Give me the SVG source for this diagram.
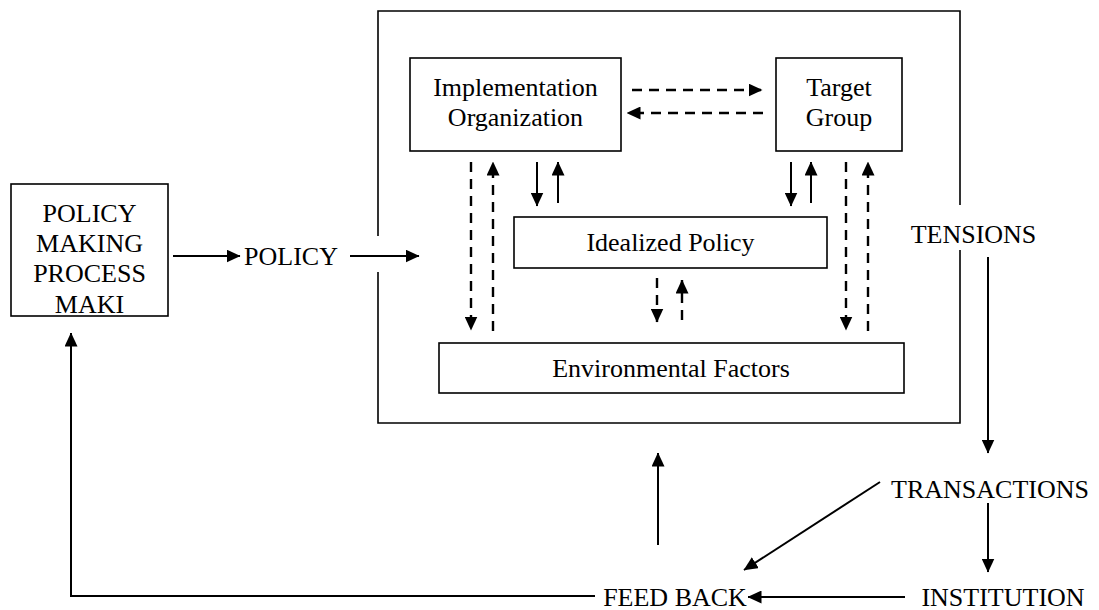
<svg xmlns="http://www.w3.org/2000/svg" width="1099" height="610" viewBox="0 0 1099 610">
<style>
  .box{fill:#fff;stroke:#000;stroke-width:1.6}
  .frame{fill:none;stroke:#000;stroke-width:1.6}
  .t{font-family:"Liberation Serif","Times New Roman",serif;font-size:26px;fill:#000;text-anchor:middle}
  .ln{fill:none;stroke:#000;stroke-width:2}
  .ds{fill:none;stroke:#000;stroke-width:2.4;stroke-dasharray:10 7}
</style>
<defs>
  <marker id="ah" markerUnits="userSpaceOnUse" markerWidth="14" markerHeight="13" refX="13.5" refY="6.5" orient="auto">
    <path d="M0,0 L14,6.5 L0,13 z" fill="#000"/>
  </marker>
</defs>
<rect width="1099" height="610" fill="#fff"/>

<g id="implementation-frame">
  <path class="frame" d="M378,236 V11 H960 V205 M960,250 V423 H378 V272"/>
</g>

<g id="policy-making-process">
  <rect class="box" x="11" y="184" width="157" height="132"/>
  <text class="t" x="89.5" y="222">POLICY</text>
  <text class="t" x="89.5" y="252">MAKING</text>
  <text class="t" x="89.5" y="282">PROCESS</text>
  <text class="t" x="89.5" y="313">MAKI</text>
</g>

<g id="policy"><text class="t" x="291" y="265">POLICY</text></g>

<g id="implementation-organization">
  <rect class="box" x="410" y="58" width="211" height="93"/>
  <text class="t" x="515.5" y="96">Implementation</text>
  <text class="t" x="515.5" y="126">Organization</text>
</g>

<g id="target-group">
  <rect class="box" x="776" y="58" width="126" height="93"/>
  <text class="t" x="839" y="96">Target</text>
  <text class="t" x="839" y="126">Group</text>
</g>

<g id="idealized-policy">
  <rect class="box" x="514" y="217" width="313" height="51"/>
  <text class="t" x="670.5" y="251">Idealized Policy</text>
</g>

<g id="environmental-factors">
  <rect class="box" x="439" y="343" width="465" height="50"/>
  <text class="t" x="671" y="377">Environmental Factors</text>
</g>

<g id="tensions"><text class="t" x="973.5" y="243">TENSIONS</text></g>
<g id="transactions"><text class="t" x="990" y="498">TRANSACTIONS</text></g>
<g id="institution"><text class="t" x="1003" y="606">INSTITUTION</text></g>
<g id="feed-back"><text class="t" x="675" y="606">FEED BACK</text></g>

<g id="connectors">
  <path class="ln" d="M173,256 H240" marker-end="url(#ah)"/>
  <path class="ln" d="M350,256 H419" marker-end="url(#ah)"/>
  <path class="ds" d="M632,90 H762" marker-end="url(#ah)"/>
  <path class="ds" d="M763,113 H627" marker-end="url(#ah)"/>
  <path class="ds" d="M471,162 V330" marker-end="url(#ah)"/>
  <path class="ds" d="M493,331 V162" marker-end="url(#ah)"/>
  <path class="ln" d="M537,162 V206" marker-end="url(#ah)"/>
  <path class="ln" d="M558,203 V162" marker-end="url(#ah)"/>
  <path class="ln" d="M791,162 V206" marker-end="url(#ah)"/>
  <path class="ln" d="M811,203 V162" marker-end="url(#ah)"/>
  <path class="ds" d="M846,162 V330" marker-end="url(#ah)"/>
  <path class="ds" d="M868,331 V162" marker-end="url(#ah)"/>
  <path class="ds" d="M657,278 V322" marker-end="url(#ah)"/>
  <path class="ds" d="M682,320 V280" marker-end="url(#ah)"/>
  <path class="ln" d="M988,257 V453" marker-end="url(#ah)"/>
  <path class="ln" d="M988,503 V572" marker-end="url(#ah)"/>
  <path class="ln" d="M880,482 L744,570" marker-end="url(#ah)"/>
  <path class="ln" d="M658,545 V453" marker-end="url(#ah)"/>
  <path class="ln" d="M905,597 H748" marker-end="url(#ah)"/>
  <path class="ln" d="M595,596 H71 V333" marker-end="url(#ah)"/>
</g>
</svg>
